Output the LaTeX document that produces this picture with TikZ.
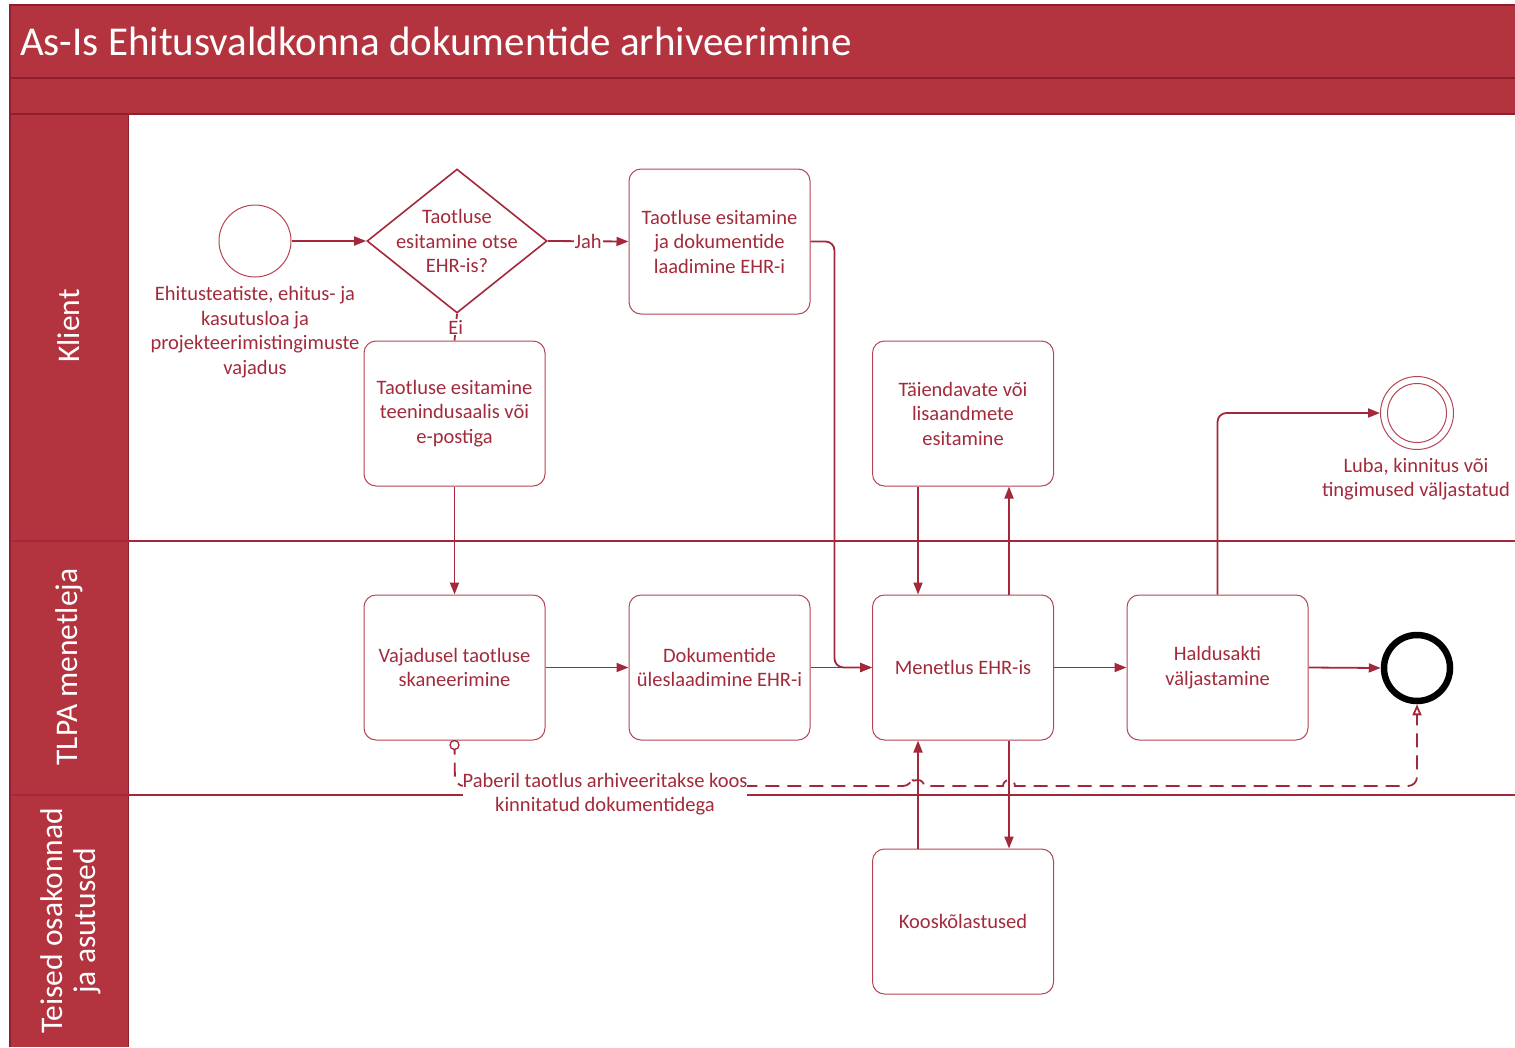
\documentclass[tikz,border=0pt]{standalone}
\usepackage{fontspec}
\setmainfont{Carlito}
\usetikzlibrary{arrows.meta,calc,shapes.geometric}

\definecolor{hdrfill}{HTML}{B3343F}
\definecolor{hdrline}{HTML}{8E1F2D}
\definecolor{flowc}{HTML}{A2283A}
\definecolor{txt}{HTML}{A32A3A}
\definecolor{boxline}{HTML}{B54453}

\begin{document}
\begin{tikzpicture}[x=1pt,y=-1pt,
  lbl/.style={text=txt, font=\fontsize{20.5}{24.5}\selectfont, align=center},
  task/.style={lbl, draw=boxline, line width=1pt, rounded corners=12pt,
    minimum width=181pt, minimum height=145pt, inner sep=2pt},
  event/.style={circle, draw=boxline, line width=1pt, minimum size=72pt, inner sep=0pt},
  flow/.style={draw=flowc, line width=1.8pt, -{Triangle[length=12pt,width=9pt]}},
  plainflow/.style={draw=flowc, line width=1.8pt},
  assoc/.style={draw=flowc, line width=1.8pt, dash pattern=on 14pt off 8pt,
    -{Triangle[open,length=11pt,width=9pt]}},
  lanetext/.style={text=white, font=\fontsize{31.5}{33}\selectfont, align=center, rotate=90},
  edgelbl/.style={lbl, fill=white, inner sep=1pt}
]
\useasboundingbox (0,0) rectangle (1515,1047);

% header bands and lane header column
\fill[hdrfill] (10,5) rectangle (1515,114);
\fill[hdrfill] (10,114) rectangle (128,1047);
\draw[hdrline, line width=1.5pt] (10,78) -- (1515,78);
\draw[hdrline, line width=1.5pt] (10,114) -- (1515,114);
\draw[hdrline, line width=1.5pt] (10,1047) -- (10,5) -- (1515,5);
\draw[hdrline, line width=1pt] (128,114) -- (128,1047);
\node[anchor=west, text=white, font=\fontsize{41}{46}\selectfont, inner sep=0pt] (title) at (20,41)
  {As-Is Ehitusvaldkonna dokumentide arhiveerimine};

% lane separators
\draw[flowc, line width=1.6pt] (10,541) -- (1515,541);
\draw[flowc, line width=1.6pt] (10,795) -- (1515,795);

% lane names
\node[lanetext] (laneK) at (69,326) {Klient};
\node[lanetext] (laneT) at (69,667) {TLPA menetleja};
\node[lanetext] (laneO) at (71,921) {Teised osakonnad\\ja asutused};

% Klient lane
\node[event] (start) at (255,241) {};
\node[lbl, inner sep=0pt] (startlbl) at (255,332)
  {Ehitusteatiste, ehitus- ja\\kasutusloa ja\\projekteerimistingimuste\\vajadus};
\node[diamond, draw=flowc, line width=1.6pt, minimum width=180pt, minimum height=144pt,
  inner sep=0pt, aspect=1.25] (dec) at (457,241) {};
\node[lbl] (dectext) at (457,241) {Taotluse\\esitamine otse\\EHR-is?};
\node[task] (A) at (719.5,241.5) {Taotluse esitamine\\ja dokumentide\\laadimine EHR-i};
\node[task] (B) at (454.5,413.5) {Taotluse esitamine\\teenindusaalis või\\e-postiga};
\node[task] (C) at (963,413.5) {Täiendavate või\\lisaandmete\\esitamine};
\node[event, minimum size=73pt] (endok) at (1417,413) {};
\draw[boxline, line width=1pt] (endok.center) circle[radius=29.5pt];
\node[lbl, inner sep=0pt] (endoklbl) at (1416,479)
  {Luba, kinnitus või\\tingimused väljastatud};

% TLPA lane
\node[task] (D) at (454.5,667.5) {Vajadusel taotluse\\skaneerimine};
\node[task] (E) at (719.5,667.5) {Dokumentide\\üleslaadimine EHR-i};
\node[task] (F) at (963,667.5) {Menetlus EHR-is};
\node[task] (G) at (1217.5,667.5) {Haldusakti\\väljastamine};
\node[circle, draw=black, line width=6.5pt, minimum size=66pt, inner sep=0pt] (endx) at (1417,668) {};

% other departments lane
\node[task] (H) at (963,921.5) {Kooskõlastused};

% sequence flows
\draw[flow] (start) -- (dec.west);
\draw[flow] (dec.east) -- node[edgelbl] {Jah} (A.west);
\draw[plainflow] (dec.south) -- node[edgelbl] {Ei} (B.north);
\draw[flow, rounded corners=9pt] (A.east) -- ++(24,0) |- (F.west);
\draw[flow] (B.south) -- (D.north);
\draw[flow] (D.east) -- (E.west);
\draw[flow] (E.east) -- (F.west);
\draw[flow] ([xshift=-45pt]C.south) -- ([xshift=-45pt]F.north);
\draw[flow] ([xshift=46pt]F.north) -- ([xshift=46pt]C.south);
\draw[flow] ([xshift=46pt]F.south) -- ([xshift=46pt]H.north);
\draw[flow] ([xshift=-45pt]H.north) -- ([xshift=-45pt]F.south);
\draw[flow] (F.east) -- (G.west);
\draw[flow] (G.east) -- (endx.west);
\draw[flow, rounded corners=9pt] (G.north) |- (endok.west);

% association from the scanning task to the end event
\coordinate (dl) at (455,786);
\draw[assoc, rounded corners=9pt] (D.south) -- (dl)
  -- ([xshift=-51pt]H.north |- dl) [sharp corners] arc[start angle=180, end angle=0, radius=6pt]
  -- ([xshift=40pt]H.north |- dl) arc[start angle=180, end angle=0, radius=6pt]
  [rounded corners=9pt] -- (endx.south |- dl) -- (endx.south);
\draw[flowc, line width=1.3pt, fill=white] (D.south) ++(0,4.5) circle[radius=4.5pt];
\node[edgelbl, inner sep=0pt] (assoclbl) at (605,794)
  {Paberil taotlus arhiveeritakse koos\\kinnitatud dokumentidega};
\end{tikzpicture}
\end{document}
